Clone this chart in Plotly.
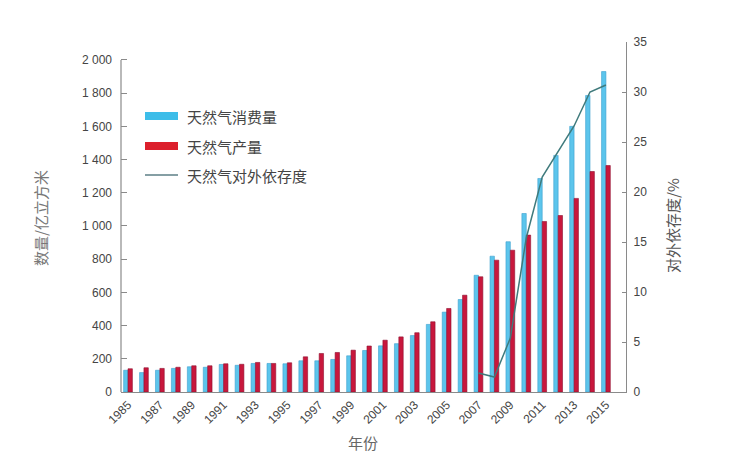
import plotly.graph_objects as go

years = list(range(1985, 2016))
consumption = [131, 117, 131, 142, 152, 149, 166, 161, 172, 172, 170,
               188, 188, 196, 218, 250, 278, 291, 340, 407, 481, 557,
               703, 818, 905, 1075, 1286, 1425, 1600, 1786, 1930]
production = [140, 146, 142, 149, 158, 158, 170, 167, 178, 172, 176,
              212, 232, 238, 252, 277, 312, 332, 357, 423, 503, 583,
              694, 794, 854, 945, 1027, 1063, 1166, 1328, 1364]
dep_years = list(range(2007, 2016))
dependence = [1.9, 1.5, 5.4, 15.4, 21.5, 24.0, 26.6, 30.0, 30.7]

left_ticks = list(range(0, 2001, 200))
left_ticktext = [f"{v:,}".replace(",", " ") for v in left_ticks]
right_ticks = list(range(0, 36, 5))
x_ticks = list(range(1985, 2016, 2))

names = ["天然气消费量", "天然气产量", "天然气对外依存度"]
cyan = "#5cc5ec"
red = "#c8173c"
line_col = "#3f7a7c"

fig = go.Figure()
fig.add_trace(go.Bar(x=years, y=consumption, name=names[0], marker=dict(color=cyan, line=dict(color="#3d9fcf", width=0.6))))
fig.add_trace(go.Bar(x=years, y=production, name=names[1], marker=dict(color=red, line=dict(color="#8e1030", width=0.6))))
fig.add_trace(go.Scatter(x=dep_years, y=dependence, name=names[2], mode="lines",
                         line=dict(color=line_col, width=1.5), yaxis="y2"))

font_fam = "Liberation Sans, Arial, sans-serif"
cjk = "Noto Sans CJK SC"

fig.update_layout(
    width=750, height=460,
    margin=dict(l=113, r=132, t=34, b=76),
    paper_bgcolor="white", plot_bgcolor="white",
    showlegend=False,
    barmode="group", bargap=0.45, bargroupgap=0,
    xaxis=dict(range=[1984.56, 2016.26], tickmode="array", tickvals=x_ticks,
               tickangle=-45, showgrid=False, zeroline=False,
               showline=True, linecolor="#8a8a8a", linewidth=1.2, ticks="",
               tickfont=dict(family=font_fam, size=12, color="#444")),
    yaxis=dict(range=[0, 2108], tickmode="array", tickvals=left_ticks, ticktext=left_ticktext,
               showgrid=False, zeroline=False, showline=False,
               ticks="inside", ticklen=6, tickcolor="#8a8a8a", ticklabelstandoff=8,
               tickfont=dict(family=font_fam, size=12, color="#444")),
    yaxis2=dict(range=[0, 35], overlaying="y", side="right", tickmode="array", tickvals=right_ticks,
                showgrid=False, zeroline=False, showline=True, linecolor="#8a8a8a", linewidth=1.2,
                ticks="inside", ticklen=4, tickcolor="#8a8a8a", ticklabelstandoff=4,
                tickfont=dict(family=font_fam, size=12, color="#444")),
)

# left axis line (ends at 2000)
fig.add_shape(type="line", xref="paper", yref="y", x0=0, x1=0, y0=0, y1=2000,
              line=dict(color="#8a8a8a", width=1.2))

def px_x(p):
    return (p - 113) / 505

def px_y(p):
    return (384 - p) / 350

# axis titles
fig.add_annotation(xref="paper", yref="paper", x=px_x(32), y=px_y(210),
                   xanchor="center", yanchor="middle",
                   text="数量/亿立方米", textangle=-90, showarrow=False,
                   font=dict(family=cjk, size=15, color="#777"))
fig.add_annotation(xref="paper", yref="paper", x=px_x(664), y=px_y(218),
                   xanchor="center", yanchor="middle",
                   text="对外依存度/%", textangle=-90, showarrow=False,
                   font=dict(family=cjk, size=15, color="#555"))
fig.add_annotation(xref="paper", yref="paper", x=px_x(355), y=px_y(434),
                   xanchor="center", yanchor="middle",
                   text="年份", showarrow=False,
                   font=dict(family=cjk, size=15, color="#666"))

# custom legend
fig.add_shape(type="rect", xref="paper", yref="paper", x0=px_x(137), x1=px_x(170),
              y0=px_y(112), y1=px_y(104), line=dict(width=0), fillcolor="#3dbde9")
fig.add_shape(type="rect", xref="paper", yref="paper", x0=px_x(137), x1=px_x(170),
              y0=px_y(142), y1=px_y(134), line=dict(width=0), fillcolor="#dc1f2c")
fig.add_shape(type="line", xref="paper", yref="paper", x0=px_x(137), x1=px_x(170),
              y0=px_y(167), y1=px_y(167), line=dict(color="#5d7f86", width=1.5))
for name, yy in zip(names, [108, 138, 167]):
    fig.add_annotation(xref="paper", yref="paper", x=px_x(177), y=px_y(yy),
                       xanchor="left", yanchor="middle",
                       text=name, showarrow=False,
                       font=dict(family=cjk, size=15, color="#444"))

fig.write_html("out.html")
